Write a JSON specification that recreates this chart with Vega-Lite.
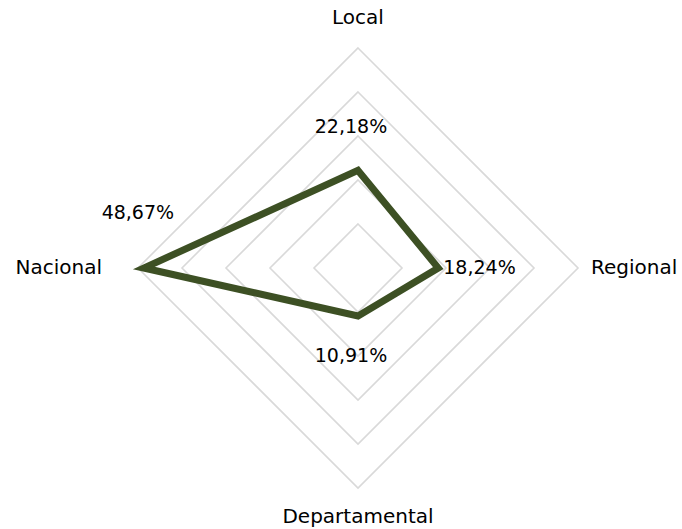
{
  "$schema": "https://vega.github.io/schema/vega-lite/v6.json",
  "width": 440,
  "height": 440,
  "autosize": "none",
  "padding": {"left": 138, "top": 48, "right": 104, "bottom": 41},
  "background": "white",
  "config": {"view": {"stroke": null}, "font": "DejaVu Sans"},
  "datasets": {
    "series": [
      {"cat": "Local", "value": 22.18, "label": "22,18%"},
      {"cat": "Regional", "value": 18.24, "label": "18,24%"},
      {"cat": "Departamental", "value": 10.91, "label": "10,91%"},
      {"cat": "Nacional", "value": 48.67, "label": "48,67%"}
    ],
    "grid": [
      {"level": 10, "cat": ["Local", "Regional", "Departamental", "Nacional"]},
      {"level": 20, "cat": ["Local", "Regional", "Departamental", "Nacional"]},
      {"level": 30, "cat": ["Local", "Regional", "Departamental", "Nacional"]},
      {"level": 40, "cat": ["Local", "Regional", "Departamental", "Nacional"]},
      {"level": 50, "cat": ["Local", "Regional", "Departamental", "Nacional"]}
    ]
  },
  "encoding": {
    "x": {"field": "x", "type": "quantitative", "scale": {"domain": [-50, 50], "nice": false}, "axis": null},
    "y": {"field": "y", "type": "quantitative", "scale": {"domain": [-50, 50], "nice": false}, "axis": null}
  },
  "layer": [
    {
      "data": {"name": "grid"},
      "transform": [
        {"flatten": ["cat"]},
        {"calculate": "indexof(['Local','Regional','Departamental','Nacional'], datum.cat)", "as": "idx"},
        {"calculate": "datum.level * [0,1,0,-1][datum.idx]", "as": "x"},
        {"calculate": "datum.level * [1,0,-1,0][datum.idx]", "as": "y"}
      ],
      "mark": {"type": "line", "interpolate": "linear-closed", "stroke": "#d9d9d9", "strokeWidth": 1.6},
      "encoding": {
        "detail": {"field": "level", "type": "nominal"},
        "order": {"field": "idx", "type": "quantitative"}
      }
    },
    {
      "data": {"name": "series"},
      "transform": [
        {"calculate": "indexof(['Local','Regional','Departamental','Nacional'], datum.cat)", "as": "idx"},
        {"calculate": "datum.value * [0,1,0,-1][datum.idx]", "as": "x"},
        {"calculate": "datum.value * [1,0,-1,0][datum.idx]", "as": "y"}
      ],
      "layer": [
        {
          "mark": {"type": "line", "interpolate": "linear-closed", "stroke": "#3d5024", "strokeWidth": 7, "strokeJoin": "miter"},
          "encoding": {"order": {"field": "idx", "type": "quantitative"}}
        },
        {
          "transform": [{"filter": "datum.cat == 'Local'"}],
          "mark": {"type": "text", "fontSize": 19, "color": "#000000", "align": "center", "baseline": "middle", "dx": -7, "dy": -43},
          "encoding": {"text": {"field": "label"}}
        },
        {
          "transform": [{"filter": "datum.cat == 'Regional'"}],
          "mark": {"type": "text", "fontSize": 19, "color": "#000000", "align": "left", "baseline": "middle", "dx": 5, "dy": 0},
          "encoding": {"text": {"field": "label"}}
        },
        {
          "transform": [{"filter": "datum.cat == 'Departamental'"}],
          "mark": {"type": "text", "fontSize": 19, "color": "#000000", "align": "center", "baseline": "middle", "dx": -7, "dy": 40},
          "encoding": {"text": {"field": "label"}}
        },
        {
          "transform": [{"filter": "datum.cat == 'Nacional'"}],
          "mark": {"type": "text", "fontSize": 19, "color": "#000000", "align": "center", "baseline": "middle", "dx": -6, "dy": -55},
          "encoding": {"text": {"field": "label"}}
        }
      ]
    },
    {
      "data": {"name": "series"},
      "transform": [
        {"calculate": "indexof(['Local','Regional','Departamental','Nacional'], datum.cat)", "as": "idx"},
        {"calculate": "50 * [0,1,0,-1][datum.idx]", "as": "x"},
        {"calculate": "50 * [1,0,-1,0][datum.idx]", "as": "y"}
      ],
      "layer": [
        {
          "transform": [{"filter": "datum.cat == 'Local'"}],
          "mark": {"type": "text", "fontSize": 20, "color": "#000000", "align": "center", "baseline": "middle", "dy": -30},
          "encoding": {"text": {"field": "cat"}}
        },
        {
          "transform": [{"filter": "datum.cat == 'Regional'"}],
          "mark": {"type": "text", "fontSize": 20, "color": "#000000", "align": "left", "baseline": "middle", "dx": 13},
          "encoding": {"text": {"field": "cat"}}
        },
        {
          "transform": [{"filter": "datum.cat == 'Departamental'"}],
          "mark": {"type": "text", "fontSize": 20, "color": "#000000", "align": "center", "baseline": "middle", "dy": 29},
          "encoding": {"text": {"field": "cat"}}
        },
        {
          "transform": [{"filter": "datum.cat == 'Nacional'"}],
          "mark": {"type": "text", "fontSize": 20, "color": "#000000", "align": "right", "baseline": "middle", "dx": -36},
          "encoding": {"text": {"field": "cat"}}
        }
      ]
    }
  ]
}
